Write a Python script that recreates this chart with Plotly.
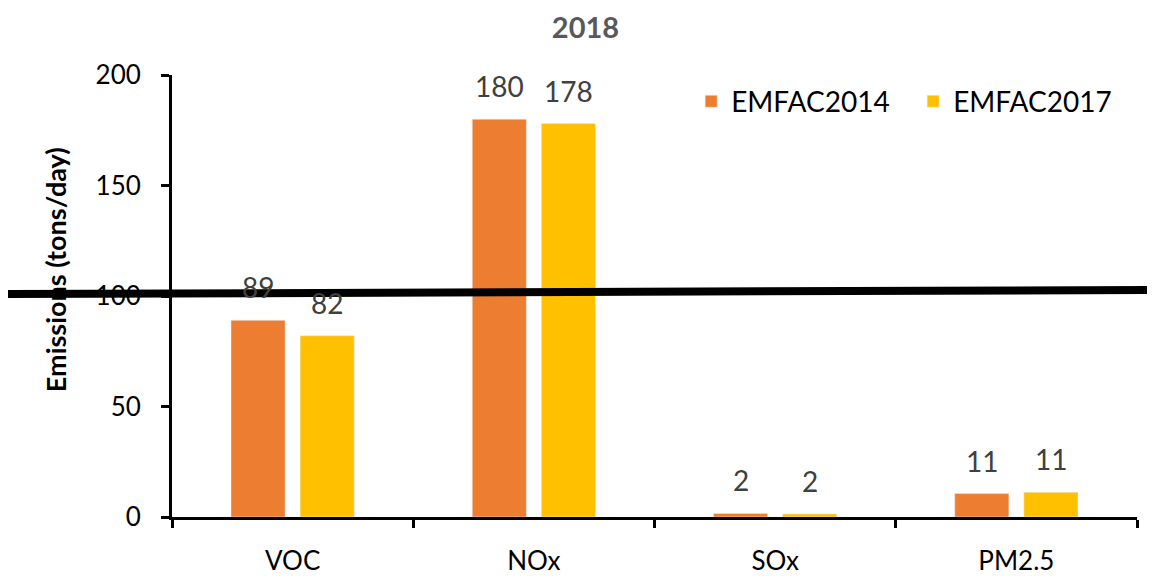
import plotly.graph_objects as go

categories = ["VOC", "NOx", "SOx", "PM2.5"]
emfac2014 = [89, 180, 1.6, 10.6]
emfac2017 = [82, 178, 1.4, 11.2]
labels2014 = ["89", "180", "2", "11"]
labels2017 = ["82", "178", "2", "11"]
series = [("EMFAC2014", emfac2014, labels2014, "#ED7D31", -34.5),
          ("EMFAC2017", emfac2017, labels2017, "#FFC000", 34.5)]
y_ticks = [0, 50, 100, 150, 200]

FONT = "Lato, 'Open Sans', sans-serif"

fig = go.Figure()
for name, vals, labs, color, shift in series:
    fig.add_trace(go.Bar(name=name, x=categories, y=vals, marker_color=color))
    for c, v, t in zip(categories, vals, labs):
        fig.add_annotation(x=c, y=v, text=t, showarrow=False, xshift=shift, yshift=14,
                           yanchor="bottom", font=dict(size=28, color="#404040", family=FONT))

fig.update_layout(
    width=1155, height=576,
    margin=dict(l=164, r=26, t=67, b=67),
    paper_bgcolor="white", plot_bgcolor="white",
    font=dict(family=FONT, color="black"),
    title=dict(text="<b>2018</b>", x=0.5, xanchor="center", y=0.965, yanchor="middle",
               font=dict(size=29, color="#595959", family=FONT)),
    barmode="group", bargap=0.427, bargroupgap=0.217,
    showlegend=True,
    legend=dict(orientation="h", x=0.538, y=0.94, xanchor="left", yanchor="middle",
                font=dict(size=28, color="black", family=FONT), bgcolor="rgba(0,0,0,0)",
                entrywidth=177, traceorder="normal"),
)
fig.update_yaxes(range=[0, 200], tickvals=y_ticks, showgrid=False, zeroline=False,
                 showline=True, linecolor="black", linewidth=3, automargin=False,
                 ticks="outside", ticklen=8, tickwidth=3, tickcolor="black",
                 ticklabelstandoff=15,
                 tickfont=dict(size=26, color="black", family=FONT),
                 title=dict(text="<b>" + "&nbsp;" * 8 + "Emissions (tons/day)</b>",
                            font=dict(size=27, family=FONT), standoff=22))
fig.update_xaxes(showgrid=False, showline=True, linecolor="black", linewidth=3, automargin=False,
                 ticks="outside", tickson="boundaries", ticklen=8, tickwidth=3, tickcolor="black",
                 ticklabelstandoff=19,
                 tickfont=dict(size=26, color="black", family=FONT))

fig.add_shape(type="line", xref="paper", yref="paper", x0=-0.173, x1=1.0187,
              y0=0.5045, y1=0.5136, line=dict(color="black", width=8), layer="above")

fig.write_html("out.html")
